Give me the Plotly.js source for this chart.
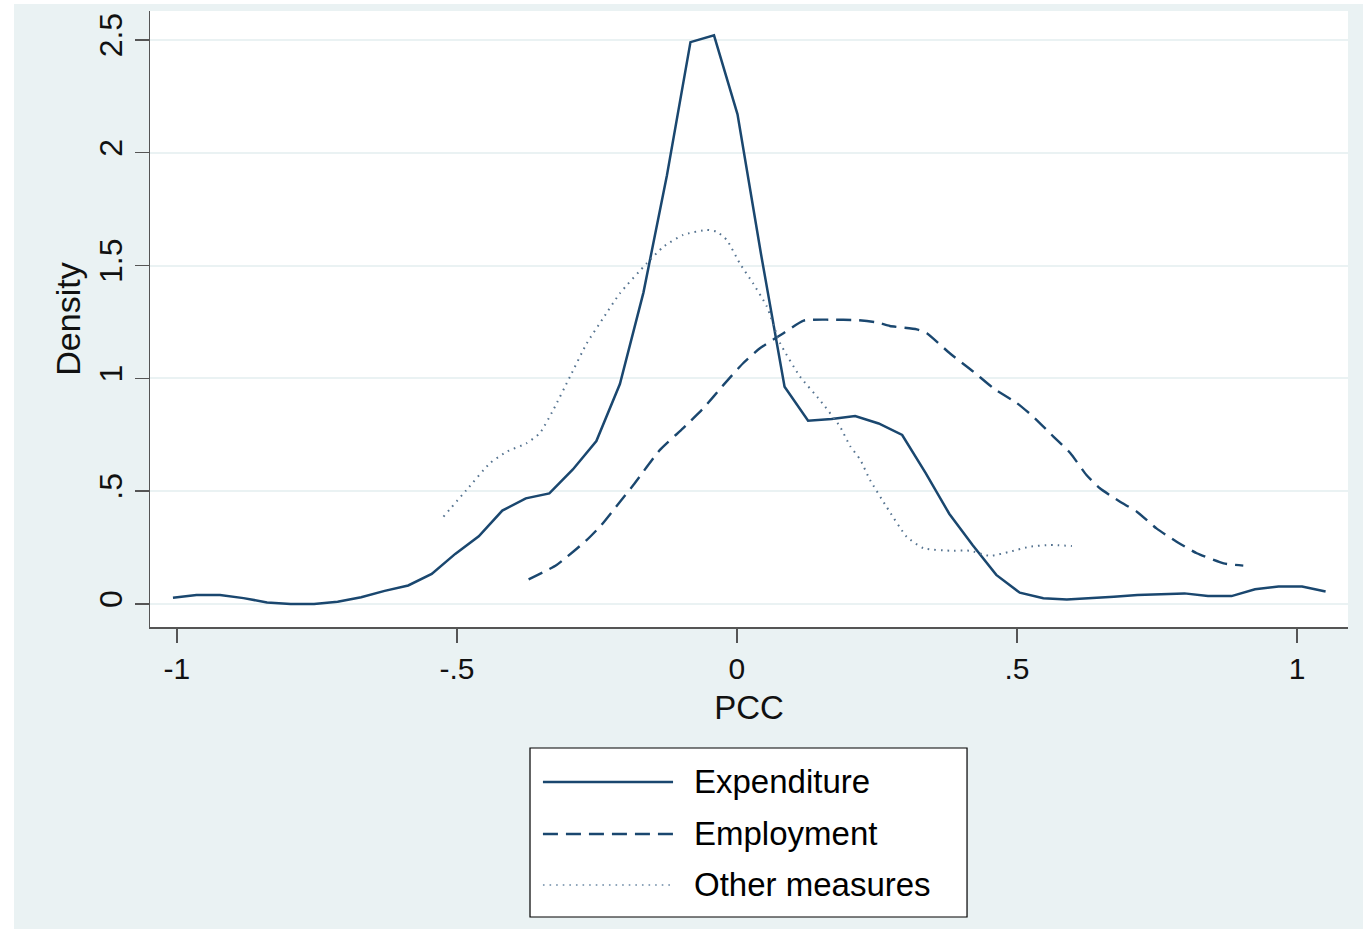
<!DOCTYPE html>
<html>
<head>
<meta charset="utf-8">
<script src="https://cdn.plot.ly/plotly-3.0.1.min.js"></script>
<style>
  html, body { margin: 0; padding: 0; background: #ffffff; width: 1363px; height: 929px; overflow: hidden; }
  #chart { position: absolute; left: 14px; top: 4px; width: 1349px; height: 925px; }
</style>
</head>
<body>
<div id="chart"></div>
<script>
// ---- data ----
const seriesNames = ["Expenditure", "Employment", "Other measures"];

const expX = [-1.007,-0.965,-0.923,-0.881,-0.839,-0.797,-0.755,-0.713,-0.671,-0.629,
              -0.587,-0.545,-0.503,-0.461,-0.419,-0.377,-0.335,-0.293,-0.251,-0.209,
              -0.167,-0.125,-0.083,-0.041,0.001,0.043,0.085,0.127,0.169,0.211,
              0.253,0.295,0.337,0.379,0.421,0.463,0.505,0.547,0.589,0.631,
              0.673,0.715,0.757,0.799,0.841,0.883,0.925,0.967,1.009,1.051];
const expY = [0.028,0.040,0.040,0.026,0.007,0.000,0.000,0.010,0.030,0.058,
              0.082,0.133,0.222,0.300,0.414,0.468,0.490,0.596,0.722,0.975,
              1.380,1.900,2.490,2.520,2.170,1.550,0.963,0.812,0.820,0.833,
              0.800,0.749,0.580,0.400,0.260,0.129,0.050,0.025,0.020,0.025,
              0.032,0.040,0.045,0.047,0.035,0.035,0.065,0.077,0.077,0.055];

const empX = [-0.372,-0.322,-0.268,-0.242,-0.213,-0.185,-0.1375,-0.096,-0.060,-0.024,
              0.011,0.041,0.083,0.119,0.166,0.214,0.250,0.273,0.321,0.339,
              0.380,0.422,0.458,0.500,0.529,0.565,0.595,0.624,0.648,0.684,
              0.714,0.749,0.785,0.821,0.869,0.904];
const empY = [0.109,0.173,0.284,0.350,0.440,0.527,0.683,0.779,0.867,0.971,
              1.067,1.133,1.200,1.256,1.260,1.258,1.248,1.232,1.217,1.200,
              1.111,1.030,0.956,0.890,0.830,0.742,0.669,0.572,0.513,0.453,
              0.409,0.335,0.276,0.225,0.180,0.170];

const othX = [-0.524,-0.483,-0.441,-0.411,-0.376,-0.352,-0.328,-0.298,-0.268,-0.239,
              -0.209,-0.161,-0.131,-0.096,-0.054,-0.036,-0.018,0.005,0.029,0.053,
              0.077,0.1125,0.148,0.184,0.202,0.220,0.2375,0.267,0.303,0.333,
              0.380,0.416,0.452,0.4875,0.523,0.559,0.598];
const othY = [0.387,0.505,0.624,0.675,0.712,0.757,0.860,1.008,1.156,1.266,
              1.377,1.510,1.584,1.636,1.658,1.650,1.613,1.510,1.420,1.320,
              1.156,1.008,0.904,0.786,0.700,0.640,0.550,0.431,0.298,0.247,
              0.236,0.236,0.213,0.232,0.254,0.261,0.257];

const xTickVals = [-1, -0.5, 0, 0.5, 1];
const xTickText = ["-1", "-.5", "0", ".5", "1"];
const yTickVals = [0, 0.5, 1, 1.5, 2, 2.5];
const yTickText = ["0", ".5", "1", "1.5", "2", "2.5"];

// ---- styles ----
const navy = "#1a476f";
const dotCol = "#557390";
const styles = [
  {color: navy, width: 2.5, dash: "solid"},
  {color: navy, width: 2.4, dash: "15px,8px"},
  {color: dotCol, width: 2.0, dash: "1.6px,5px"}
];
const FONT = "Liberation Sans, Arial, Helvetica, sans-serif";

const traces = [
  {x: expX, y: expY, name: seriesNames[0], type: "scatter", mode: "lines", line: styles[0], showlegend: false},
  {x: empX, y: empY, name: seriesNames[1], type: "scatter", mode: "lines", line: Object.assign({shape: "spline", smoothing: 0.5}, styles[1]), showlegend: false},
  {x: othX, y: othY, name: seriesNames[2], type: "scatter", mode: "lines", line: Object.assign({shape: "spline", smoothing: 0.5}, styles[2]), showlegend: false}
];

// manual legend (paper coordinates, below plot)
const legX0 = 0.3172, legX1 = 0.682, legYTop = -0.1964, legYBot = -0.4708;
const rowY = [-0.2516, -0.336, -0.4188];
const sampleX0 = 0.328, sampleX1 = 0.4366, textX = 0.4525;

const shapes = [{
  type: "rect", xref: "paper", yref: "paper",
  x0: legX0, x1: legX1, y0: legYBot, y1: legYTop,
  line: {color: "#000000", width: 1.2}, fillcolor: "#ffffff", layer: "below"
}];
const annotations = [];
seriesNames.forEach((nm, i) => {
  shapes.push({
    type: "line", xref: "paper", yref: "paper",
    x0: sampleX0, x1: sampleX1, y0: rowY[i], y1: rowY[i],
    line: {color: i === 2 ? "#8fa6bb" : styles[i].color, width: styles[i].width, dash: styles[i].dash}
  });
  annotations.push({
    xref: "paper", yref: "paper", x: textX, y: rowY[i],
    xanchor: "left", yanchor: "middle", showarrow: false,
    text: nm, font: {family: FONT, size: 33, color: "#000000"}
  });
});

const layout = {
  width: 1349, height: 925,
  paper_bgcolor: "#eaf2f3",
  plot_bgcolor: "#ffffff",
  margin: {l: 136, r: 15, t: 7, b: 302, pad: 0},
  font: {family: FONT, color: "#000000"},
  showlegend: false,
  xaxis: {
    range: [-1.048, 1.091],
    tickvals: xTickVals, ticktext: xTickText,
    ticks: "outside", ticklen: 14, tickwidth: 1.5, tickcolor: "#555555",
    tickfont: {family: FONT, size: 30, color: "#111111"},
    showline: true, linecolor: "#555555", linewidth: 1.5,
    showgrid: false, zeroline: false,
    title: {text: "PCC", font: {family: FONT, size: 33, color: "#111111"}, standoff: 12}
  },
  yaxis: {
    range: [-0.102, 2.628],
    tickvals: yTickVals, ticktext: yTickText,
    tickangle: -90,
    ticks: "outside", ticklen: 14, tickwidth: 1.5, tickcolor: "#555555",
    tickfont: {family: FONT, size: 32, color: "#111111"},
    showline: true, linecolor: "#555555", linewidth: 1.5,
    showgrid: true, gridcolor: "#eaf2f3", gridwidth: 2,
    zeroline: false,
    title: {text: "Density", font: {family: FONT, size: 34, color: "#111111"}, standoff: 2}
  },
  shapes: shapes,
  annotations: annotations
};

Plotly.newPlot("chart", traces, layout, {displayModeBar: false, staticPlot: true});
</script>
</body>
</html>
